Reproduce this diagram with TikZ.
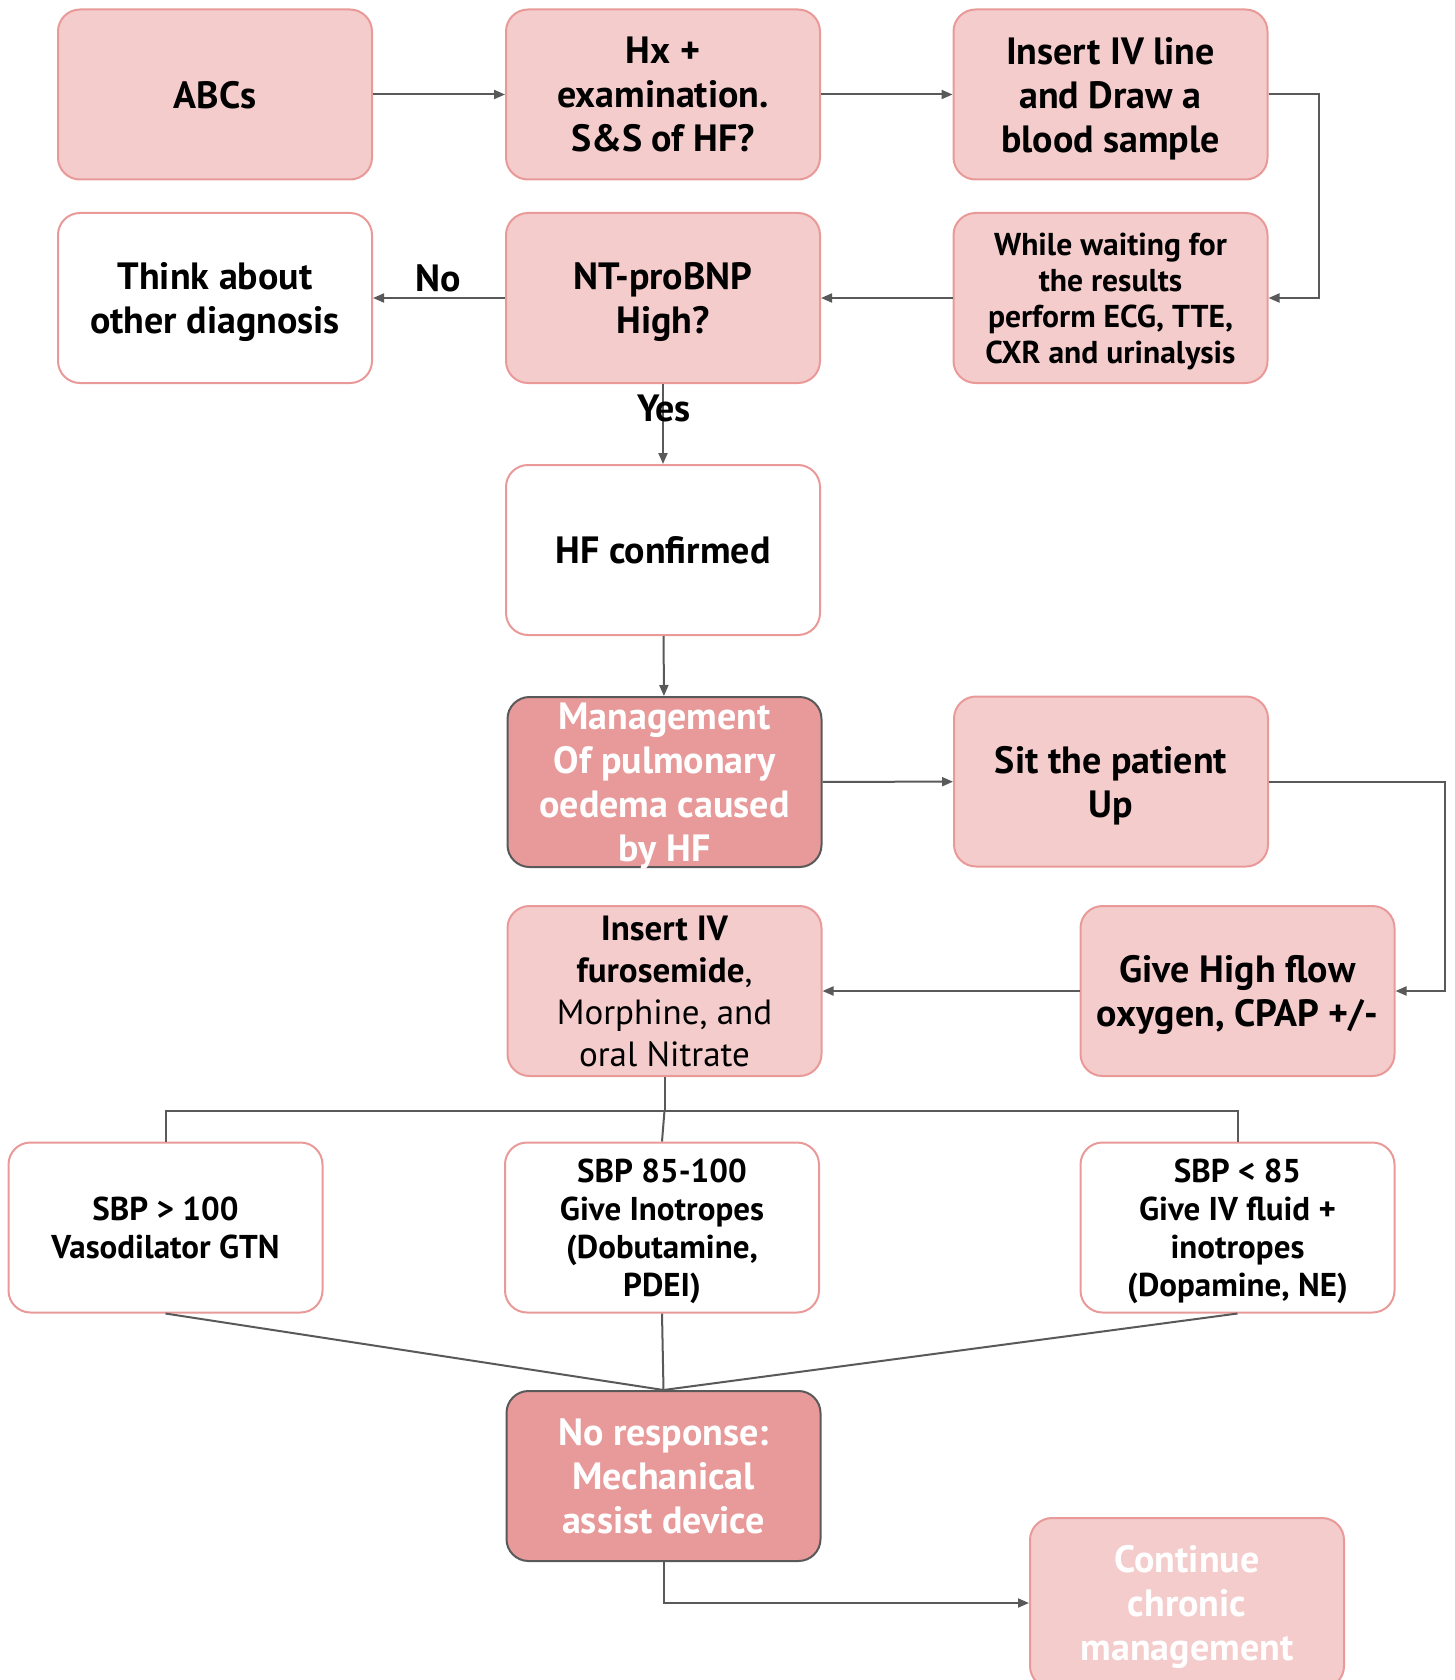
\documentclass[tikz,border=0pt]{standalone}
\usepackage{fontspec}
\setmainfont{PT Sans}
\usetikzlibrary{arrows.meta,calc}
\definecolor{boxfill}{HTML}{F4CCCC}
\definecolor{boxline}{HTML}{EA9999}
\definecolor{darkfill}{HTML}{E89A9A}
\definecolor{darkline}{HTML}{595959}
\definecolor{wire}{HTML}{595959}
\newcommand{\bigtxt}{\fontsize{19pt}{22pt}\selectfont\bfseries}
\newcommand{\midtxt}{\fontsize{16.5pt}{19pt}\selectfont\bfseries}
\newcommand{\smalltxt}{\fontsize{15.8pt}{18pt}\selectfont\bfseries}
\begin{document}
\begin{tikzpicture}[x=0.5pt,y=-0.5pt,
  card/.style={rectangle,rounded corners=11pt,minimum width=157pt,minimum height=85pt,
    line width=1pt,align=center,inner sep=0pt,text depth=0pt,font=\bigtxt},
  pink/.style={card,draw=boxline,fill=boxfill,text=black},
  plain/.style={card,draw=boxline,fill=white,text=black},
  strong/.style={card,draw=darkline,fill=darkfill,text=white},
  faded/.style={card,draw=boxline,fill=boxfill,text=white},
  conn/.style={draw=wire,line width=1pt,-{Triangle[length=5.5pt,width=4.5pt]}},
  link/.style={draw=wire,line width=1pt},
  tag/.style={inner sep=0pt,font=\bigtxt}]
\useasboundingbox (0,0) rectangle (1455,1680);
\clip (0,0) rectangle (1455,1680);

% first row
\node[pink] (abc) at (215,94.5) {ABCs};
\node[pink] (hx) at (663,94.5) {Hx +\\ examination.\\ S\&S of HF?};
\node[pink] (ivline) at (1110.5,94.5) {Insert IV line\\ and Draw a\\ blood sample};

% second row
\node[plain] (other) at (215,298) {Think about\\ other diagnosis};
\node[pink] (bnp) at (663,298) {NT-proBNP\\ High?};
\node[pink,font=\smalltxt] (wait) at (1110.5,298) {While waiting for\\ the results\\ perform ECG, TTE,\\ CXR and urinalysis};

% diagnosis and first-line management
\node[plain] (hf) at (663,550) {HF confirmed};
\node[strong] (mgmt) at (664.5,782) {Management\\ Of pulmonary\\ oedema caused\\ by HF};
\node[pink] (sit) at (1111,781.5) {Sit the patient\\ Up};
\node[pink,font=\fontsize{17.5pt}{21pt}\selectfont] (furo) at (664.5,991) {\textbf{Insert IV}\\ \textbf{furosemide},\\ Morphine, and\\ oral Nitrate};
\node[pink] (oxy) at (1237.5,991) {Give High flow\\ oxygen, CPAP +/-};

% blood pressure branches
\node[plain,font=\midtxt] (sbpa) at (165.5,1227.5) {SBP > 100\\ Vasodilator GTN};
\node[plain,font=\midtxt] (sbpb) at (662,1227.5) {SBP 85-100\\ Give Inotropes\\ (Dobutamine,\\ PDEI)};
\node[plain,font=\midtxt] (sbpc) at (1237.5,1227.5) {SBP < 85\\ Give IV fluid +\\ inotropes\\ (Dopamine, NE)};

% escalation and follow-up
\node[strong] (mech) at (663.5,1476) {No response:\\ Mechanical\\ assist device};
\node[faded] (cont) at (1187,1603) {Continue\\ chronic\\ management};

% connectors
\draw[conn] (abc) -- (hx);
\draw[conn] (hx) -- (ivline);
\draw[conn] (ivline.east) -- ++(50,0) |- (wait.east);
\draw[conn] (wait) -- (bnp);
\draw[conn] (bnp) -- (other);
\node[tag] (nolab) at (438,278) {No};
\draw[conn] (bnp) -- (hf);
\node[tag] (yeslab) at (664,408) {Yes};
\draw[conn] (hf) -- (mgmt);
\draw[conn] (mgmt) -- (sit);
\draw[conn] (sit.east) -- ++(176,0) |- (oxy.east);
\draw[conn] (oxy) -- (furo);

\coordinate (bus) at ($(furo.south)+(0,33.5)$);
\draw[link] (furo.south) -- (bus);
\draw[link] (sbpa.north) |- (bus) -| (sbpc.north);
\draw[link] (bus) -- (sbpb.north);

\draw[link] (sbpa.south) -- (mech.north);
\draw[link] (sbpb.south) -- (mech.north);
\draw[link] (sbpc.south) -- (mech.north);
\draw[conn] (mech.south) |- (cont.west);
\end{tikzpicture}
\end{document}
